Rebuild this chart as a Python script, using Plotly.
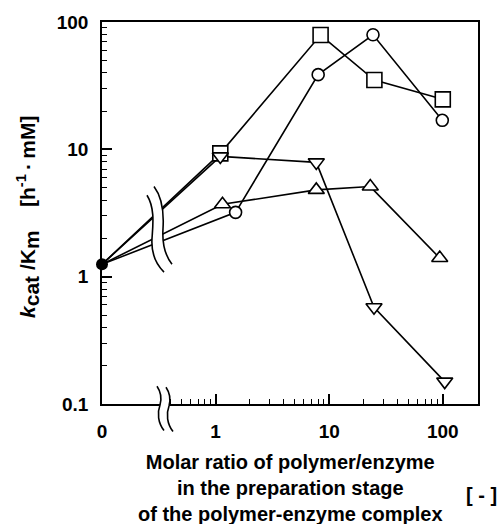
import plotly.graph_objects as go

# ---- data ----
zero_pos = 0.1  # position where ratio "0" sits on the broken log axis
ratio_sq = [0, 1.1, 8.4, 25, 100]
kk_sq = [1.25, 9.3, 79, 35, 24.7]
ratio_ci = [0, 1.5, 8.0, 24.3, 99]
kk_ci = [1.25, 3.2, 38.6, 79.4, 16.9]
ratio_up = [0, 1.15, 7.7, 23, 94]
kk_up = [1.25, 3.7, 4.8, 5.1, 1.40]
ratio_dn = [0, 1.1, 7.7, 24.8, 104]
kk_dn = [1.25, 8.8, 7.9, 0.575, 0.15]
ratio_zero = [0]
kk_zero = [1.25]

x_tickvals = [0.1, 1, 10, 100]
x_ticktext = ["0", "1", "10", "100"]
y_tickvals = [0.1, 1, 10, 100]
y_ticktext = ["0.1", "1", "10", "100"]

W, H = 501, 524
L, R, T, B = 102, 478, 16, 404

FONT = "Liberation Sans, Arial, Helvetica, sans-serif"


def xp(v):
    return [zero_pos if a == 0 else a for a in v]


series = [
    (ratio_sq, kk_sq, "square", 15),
    (ratio_ci, kk_ci, "circle", 12),
    (ratio_up, kk_up, "triangle-up", 14),
    (ratio_dn, kk_dn, "triangle-down", 14),
]

fig = go.Figure()
for xs, ys, sym, sz in series:
    fig.add_trace(go.Scatter(x=xp(xs), y=ys, mode="lines",
                             line=dict(color="black", width=1.6),
                             showlegend=False, hoverinfo="skip"))
for xs, ys, sym, sz in series:
    fig.add_trace(go.Scatter(x=xp(xs)[1:], y=ys[1:], mode="markers",
                             marker=dict(symbol=sym, size=sz, color="white",
                                         line=dict(color="black", width=1.6)),
                             showlegend=False))
fig.add_trace(go.Scatter(x=xp(ratio_zero), y=kk_zero, mode="markers",
                         marker=dict(symbol="circle", size=12, color="black"),
                         showlegend=False, cliponaxis=False))


def P(px, py):
    return ((px - L) / (R - L), (B - py) / (B - T))


def seg_path(pts, start_cmd="M"):
    s = start_cmd + " %.5f,%.5f" % P(*pts[0])
    for i in range(1, len(pts), 3):
        s += " C " + " ".join("%.5f,%.5f" % P(*p) for p in pts[i:i + 3])
    return s


def break_shapes(left, right):
    fill = seg_path(left) + " " + seg_path(right[::-1], "L") + " Z"
    shapes = [dict(type="path", xref="paper", yref="paper", path=fill,
                   fillcolor="white", line=dict(width=0), layer="above")]
    for c in (left, right):
        shapes.append(dict(type="path", xref="paper", yref="paper",
                           path=seg_path(c), line=dict(color="black", width=1.6),
                           layer="above"))
    return shapes


# break on the connecting lines
yb_left = [(147, 192), (155, 205), (153, 222), (152, 236), (151, 252), (156, 262), (164, 270)]
yb_right = [(154, 183), (163, 195), (164, 210), (163, 226), (162, 242), (165, 253), (172, 262)]
# break on the x axis
xb_left = [(157, 386), (161, 392), (162, 398), (160, 405), (157, 413), (158, 423), (164, 431)]
xb_right = [(166, 387), (170, 393), (171, 399), (169, 406), (166, 414), (167, 424), (173, 432)]

shapes = break_shapes(yb_left, yb_right) + break_shapes(xb_left, xb_right)

x_minor = [0.4, 0.5, 0.6, 0.7, 0.8, 0.9] + [a for a in range(2, 10)] + [a * 10 for a in range(2, 10)]
y_minor = [a / 10 for a in range(2, 10)] + [a for a in range(2, 10)] + [a * 10 for a in range(2, 10)]

ytitle = ('<i>k</i><sub><span style="font-size:21px">cat</span></sub> /K'
          '<sub><span style="font-size:21px">m</span></sub>'
          '&nbsp;&nbsp;&nbsp;&nbsp;[h<sup>-1</sup>\u2009·\u2009mM]')

fig.update_layout(
    width=W, height=H,
    margin=dict(l=L, r=W - R, t=T, b=H - B),
    paper_bgcolor="white", plot_bgcolor="white",
    font=dict(family=FONT, size=19, color="black", weight="bold"),
    shapes=shapes,
    xaxis=dict(type="log", range=[-1, 2.31], showgrid=False, zeroline=False,
               showline=True, linecolor="black", linewidth=1.6, mirror=True,
               tickmode="array", tickvals=x_tickvals, ticktext=x_ticktext,
               ticks="inside", ticklen=10, tickwidth=1.6, tickcolor="black",
               ticklabelstandoff=9,
               minor=dict(tickmode="array", tickvals=x_minor, ticks="inside",
                          ticklen=5, tickwidth=1.4, tickcolor="black", showgrid=False)),
    yaxis=dict(type="log", range=[-1, 2], showgrid=False, zeroline=False,
               showline=True, linecolor="black", linewidth=1.6, mirror=True,
               tickmode="array", tickvals=y_tickvals, ticktext=y_ticktext,
               ticks="inside", ticklen=10, tickwidth=1.6, tickcolor="black",
               ticklabelstandoff=8,
               minor=dict(tickmode="array", tickvals=y_minor, ticks="inside",
                          ticklen=5, tickwidth=1.4, tickcolor="black", showgrid=False)),
    annotations=[
        dict(text="Molar ratio of polymer/enzyme<br>in the preparation stage<br>of the polymer-enzyme complex",
             xref="paper", yref="paper", x=0.5, y=(B - 450) / (B - T),
             xanchor="center", yanchor="top", showarrow=False,
             font=dict(size=20, family=FONT, weight="bold")),
        dict(text="[ - ]", xref="paper", yref="paper", x=(481 - L) / (R - L),
             y=(B - 496) / (B - T), xanchor="center", yanchor="middle",
             showarrow=False, font=dict(size=20, family=FONT, weight="bold")),
        dict(text=ytitle,
             xref="paper", yref="paper", x=(28 - L) / (R - L), y=(B - 214) / (B - T),
             xanchor="center", yanchor="middle", textangle=-90, showarrow=False,
             font=dict(size=21, family=FONT, weight="bold")),
    ],
)

fig.write_html("out.html")
